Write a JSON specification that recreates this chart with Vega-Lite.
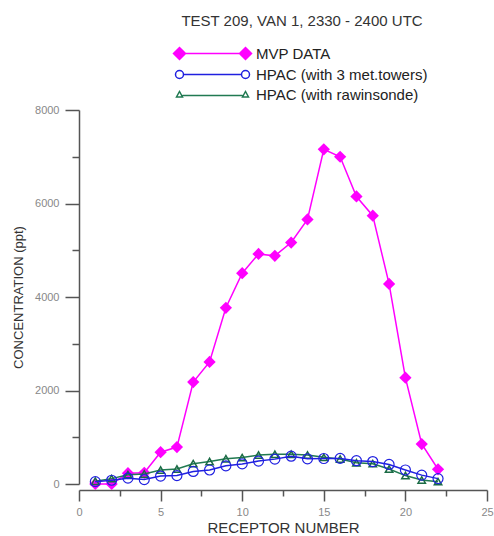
{
  "$schema": "https://vega.github.io/schema/vega-lite/v6.json",
  "autosize": "none",
  "width": 408,
  "height": 374,
  "padding": {"left": 79, "top": 110, "right": 7, "bottom": 52},
  "background": "white",
  "title": {
    "text": "TEST 209, VAN 1, 2330 - 2400 UTC",
    "font": "Liberation Sans",
    "fontSize": 15,
    "fontWeight": "normal",
    "color": "#333333",
    "anchor": "middle",
    "dx": 19,
    "offset": 17
  },
  "config": {
    "view": {"stroke": null},
    "axis": {
      "labelFont": "Liberation Sans",
      "titleFont": "Liberation Sans",
      "domainColor": "#555555",
      "tickColor": "#555555",
      "labelColor": "#888888",
      "titleColor": "#333333",
      "titleFontWeight": "normal",
      "grid": false,
      "domainWidth": 1.5,
      "tickWidth": 1.5
    }
  },
  "data": {
    "values": [
      {"series": "MVP DATA", "x": 1, "v": 0},
      {"series": "MVP DATA", "x": 2, "v": 0},
      {"series": "MVP DATA", "x": 3, "v": 230},
      {"series": "MVP DATA", "x": 4, "v": 240},
      {"series": "MVP DATA", "x": 5, "v": 680},
      {"series": "MVP DATA", "x": 6, "v": 790},
      {"series": "MVP DATA", "x": 7, "v": 2180},
      {"series": "MVP DATA", "x": 8, "v": 2610},
      {"series": "MVP DATA", "x": 9, "v": 3770},
      {"series": "MVP DATA", "x": 10, "v": 4510},
      {"series": "MVP DATA", "x": 11, "v": 4920},
      {"series": "MVP DATA", "x": 12, "v": 4880},
      {"series": "MVP DATA", "x": 13, "v": 5165},
      {"series": "MVP DATA", "x": 14, "v": 5660},
      {"series": "MVP DATA", "x": 15, "v": 7160},
      {"series": "MVP DATA", "x": 16, "v": 7000},
      {"series": "MVP DATA", "x": 17, "v": 6150},
      {"series": "MVP DATA", "x": 18, "v": 5740},
      {"series": "MVP DATA", "x": 19, "v": 4280},
      {"series": "MVP DATA", "x": 20, "v": 2275},
      {"series": "MVP DATA", "x": 21, "v": 855},
      {"series": "MVP DATA", "x": 22, "v": 315},
      {"series": "HPAC (with rawinsonde)", "x": 1, "v": 60},
      {"series": "HPAC (with rawinsonde)", "x": 2, "v": 115},
      {"series": "HPAC (with rawinsonde)", "x": 3, "v": 200},
      {"series": "HPAC (with rawinsonde)", "x": 4, "v": 215},
      {"series": "HPAC (with rawinsonde)", "x": 5, "v": 300},
      {"series": "HPAC (with rawinsonde)", "x": 6, "v": 320},
      {"series": "HPAC (with rawinsonde)", "x": 7, "v": 435},
      {"series": "HPAC (with rawinsonde)", "x": 8, "v": 480},
      {"series": "HPAC (with rawinsonde)", "x": 9, "v": 540},
      {"series": "HPAC (with rawinsonde)", "x": 10, "v": 565},
      {"series": "HPAC (with rawinsonde)", "x": 11, "v": 620},
      {"series": "HPAC (with rawinsonde)", "x": 12, "v": 635},
      {"series": "HPAC (with rawinsonde)", "x": 13, "v": 635},
      {"series": "HPAC (with rawinsonde)", "x": 14, "v": 620},
      {"series": "HPAC (with rawinsonde)", "x": 15, "v": 570},
      {"series": "HPAC (with rawinsonde)", "x": 16, "v": 535},
      {"series": "HPAC (with rawinsonde)", "x": 17, "v": 455},
      {"series": "HPAC (with rawinsonde)", "x": 18, "v": 435},
      {"series": "HPAC (with rawinsonde)", "x": 19, "v": 320},
      {"series": "HPAC (with rawinsonde)", "x": 20, "v": 180},
      {"series": "HPAC (with rawinsonde)", "x": 21, "v": 85},
      {"series": "HPAC (with rawinsonde)", "x": 22, "v": 50},
      {"series": "HPAC (with 3 met.towers)", "x": 1, "v": 50},
      {"series": "HPAC (with 3 met.towers)", "x": 2, "v": 80},
      {"series": "HPAC (with 3 met.towers)", "x": 3, "v": 125},
      {"series": "HPAC (with 3 met.towers)", "x": 4, "v": 95},
      {"series": "HPAC (with 3 met.towers)", "x": 5, "v": 170},
      {"series": "HPAC (with 3 met.towers)", "x": 6, "v": 180},
      {"series": "HPAC (with 3 met.towers)", "x": 7, "v": 268},
      {"series": "HPAC (with 3 met.towers)", "x": 8, "v": 300},
      {"series": "HPAC (with 3 met.towers)", "x": 9, "v": 388},
      {"series": "HPAC (with 3 met.towers)", "x": 10, "v": 430},
      {"series": "HPAC (with 3 met.towers)", "x": 11, "v": 490},
      {"series": "HPAC (with 3 met.towers)", "x": 12, "v": 532},
      {"series": "HPAC (with 3 met.towers)", "x": 13, "v": 595},
      {"series": "HPAC (with 3 met.towers)", "x": 14, "v": 538},
      {"series": "HPAC (with 3 met.towers)", "x": 15, "v": 545},
      {"series": "HPAC (with 3 met.towers)", "x": 16, "v": 548},
      {"series": "HPAC (with 3 met.towers)", "x": 17, "v": 498},
      {"series": "HPAC (with 3 met.towers)", "x": 18, "v": 480},
      {"series": "HPAC (with 3 met.towers)", "x": 19, "v": 418},
      {"series": "HPAC (with 3 met.towers)", "x": 20, "v": 300},
      {"series": "HPAC (with 3 met.towers)", "x": 21, "v": 190},
      {"series": "HPAC (with 3 met.towers)", "x": 22, "v": 115}
    ]
  },
  "encoding": {
    "x": {
      "field": "x",
      "type": "quantitative",
      "scale": {"domain": [0, 25], "nice": false, "zero": false},
      "axis": {
        "title": "RECEPTOR NUMBER",
        "titleFontSize": 15,
        "titlePadding": 3,
        "values": [0, 2.5, 5, 7.5, 10, 12.5, 15, 17.5, 20, 22.5, 25],
        "labelExpr": "datum.value % 5 === 0 ? datum.label : ''",
        "tickSize": {"condition": {"test": "datum.value % 5 === 0", "value": 11}, "value": 6},
        "labelFontSize": 11,
        "labelPadding": 5,
        "labelFlush": false,
        "labelOverlap": false,
        "offset": 6
      }
    },
    "y": {
      "field": "v",
      "type": "quantitative",
      "scale": {"domain": [0, 8000], "nice": false},
      "axis": {
        "title": "CONCENTRATION (ppt)",
        "titleFontSize": 13,
        "titlePadding": 9,
        "values": [0, 1000, 2000, 3000, 4000, 5000, 6000, 7000, 8000],
        "labelExpr": "datum.value % 2000 === 0 ? datum.value : ''",
        "tickSize": {"condition": {"test": "datum.value % 2000 === 0", "value": 14}, "value": 7},
        "labelFontSize": 11,
        "labelPadding": 6,
        "labelOverlap": false
      }
    }
  },
  "layer": [
    {
      "transform": [{"filter": "datum.series === 'MVP DATA'"}],
      "mark": {"type": "line", "strokeWidth": 1.5},
      "encoding": {
        "color": {
          "field": "series",
          "type": "nominal",
          "scale": {
            "domain": ["MVP DATA", "HPAC (with 3 met.towers)", "HPAC (with rawinsonde)"],
            "range": ["#ff00ff", "#2020e0", "#217a52"]
          },
          "legend": {
            "title": null,
            "orient": "none",
            "legendX": 93,
            "legendY": -64,
            "padding": 0,
            "symbolSize": 100,
            "symbolStrokeWidth": 1.5,
            "labelFont": "Liberation Sans",
            "labelFontSize": 15,
            "labelColor": "#222222",
            "labelOffset": 69,
            "labelLimit": 400,
            "rowPadding": 4,
            "encode": {
              "symbols": {
                "update": {
                  "shape": {"signal": "datum.value === 'MVP DATA' ? 'M0,-1.2L1.2,0L0,1.2L-1.2,0ZM1.2,0L12,0M13.2,-1.2L14.4,0L13.2,1.2L12,0Z' : datum.value === 'HPAC (with 3 met.towers)' ? 'M-0.8,0A0.8,0.8,0,1,0,0.8,0A0.8,0.8,0,1,0,-0.8,0ZM0.8,0L12.4,0M12.4,0A0.8,0.8,0,1,0,14,0A0.8,0.8,0,1,0,12.4,0Z' : 'M-0.6,0.5L0.6,0.5L0,-0.6ZM0.6,0.2L12.6,0.2M12.6,0.5L13.8,0.5L13.2,-0.6Z'"},
                  "fill": {"signal": "datum.value === 'MVP DATA' ? '#ff00ff' : 'transparent'"}
                }
              }
            }
          }
        }
      }
    },
    {
      "transform": [{"filter": "datum.series === 'MVP DATA'"}],
      "mark": {"type": "point", "shape": "diamond", "filled": true, "color": "#ff00ff", "size": 150, "opacity": 1}
    },
    {
      "transform": [{"filter": "datum.series === 'HPAC (with rawinsonde)'"}],
      "mark": {"type": "line", "strokeWidth": 1.5},
      "encoding": {
        "color": {
          "field": "series",
          "type": "nominal",
          "scale": {
            "domain": ["MVP DATA", "HPAC (with 3 met.towers)", "HPAC (with rawinsonde)"],
            "range": ["#ff00ff", "#2020e0", "#217a52"]
          }
        }
      }
    },
    {
      "transform": [{"filter": "datum.series === 'HPAC (with rawinsonde)'"}],
      "mark": {"type": "point", "shape": "triangle-up", "filled": false, "color": "#1b6b45", "size": 55, "strokeWidth": 1.5, "opacity": 1}
    },
    {
      "transform": [{"filter": "datum.series === 'HPAC (with 3 met.towers)'"}],
      "mark": {"type": "line", "strokeWidth": 1.5},
      "encoding": {
        "color": {
          "field": "series",
          "type": "nominal",
          "scale": {
            "domain": ["MVP DATA", "HPAC (with 3 met.towers)", "HPAC (with rawinsonde)"],
            "range": ["#ff00ff", "#2020e0", "#217a52"]
          }
        }
      }
    },
    {
      "transform": [{"filter": "datum.series === 'HPAC (with 3 met.towers)'"}],
      "mark": {"type": "point", "shape": "circle", "filled": false, "color": "#2020e0", "size": 100, "strokeWidth": 1.2, "opacity": 1}
    }
  ]
}
